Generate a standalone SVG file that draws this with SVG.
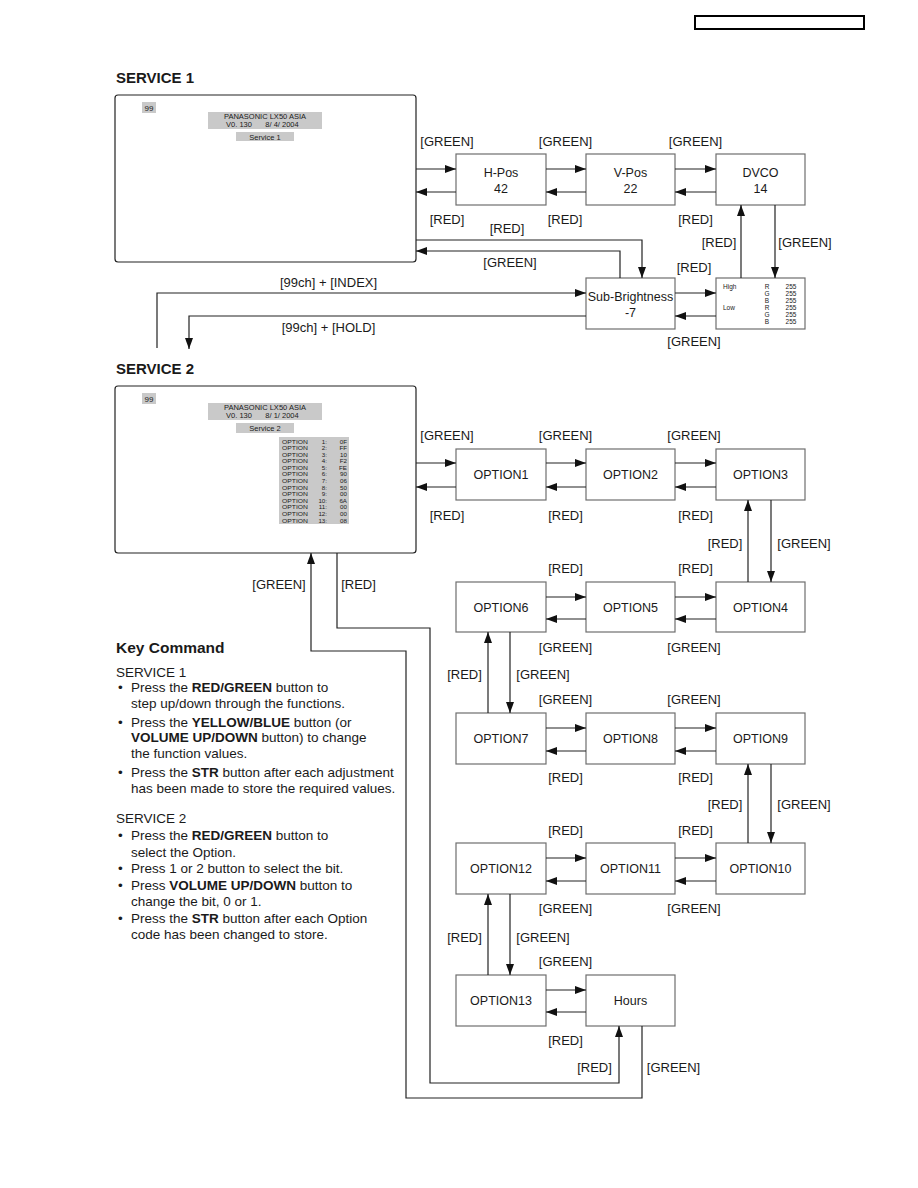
<svg xmlns="http://www.w3.org/2000/svg" width="918" height="1188" viewBox="0 0 918 1188">
<style>
text{font-family:"Liberation Sans",Arial,sans-serif;fill:#1a1a1a}
.lbl{font-size:13px;text-anchor:middle}
.nd{font-size:12.5px;text-anchor:middle}
.box{fill:#fff;stroke:#6e6e6e;stroke-width:1.2}
.scr{fill:#fff;stroke:#222;stroke-width:1.2}
.gray{fill:#c9c9c9}
.tiny{font-size:6.5px}
.sm{font-size:7.5px;text-anchor:middle}
.h{font-size:15px;font-weight:bold}
.kc{font-size:13.5px}
.ol{font-size:6.2px}
.c path{fill:none;stroke:#222;stroke-width:1.2;marker-end:url(#ah)}
</style>
<defs>
<marker id="ah" markerWidth="11" markerHeight="8" refX="11" refY="4" orient="auto" markerUnits="userSpaceOnUse">
<path d="M0,0 L11,4 L0,8 z" fill="#111"/>
</marker>
</defs>
<rect width="918" height="1188" fill="#fff"/>
<rect x="695" y="16" width="169" height="13" fill="none" stroke="#000" stroke-width="2"/>

<text class="h" x="116" y="82.5">SERVICE 1</text>
<text class="h" x="116" y="373.5">SERVICE 2</text>

<g id="screen1">
<rect class="scr" x="115" y="95" width="301" height="167" rx="3"/>
<rect class="gray" x="142" y="102" width="14" height="11"/>
<text x="149" y="110.5" font-size="8" text-anchor="middle">99</text>
<rect class="gray" x="208" y="112" width="114" height="17"/>
<text class="sm" x="265" y="118.5">PANASONIC LX50 ASIA</text>
<text class="sm" x="239" y="126.5">V0. 130</text>
<text class="sm" x="282" y="126.5">8/ 4/ 2004</text>
<rect class="gray" x="236" y="132" width="58" height="9"/>
<text class="sm" x="265" y="139.5">Service 1</text>
</g>

<g id="hpos"><rect class="box" x="456" y="154" width="90" height="51"/><text class="nd" x="501" y="176.5">H-Pos</text><text class="nd" x="501" y="192.5">42</text></g>
<g id="vpos"><rect class="box" x="586" y="154" width="89" height="51"/><text class="nd" x="630.5" y="176.5">V-Pos</text><text class="nd" x="630.5" y="192.5">22</text></g>
<g id="dvco"><rect class="box" x="716" y="154" width="89" height="51"/><text class="nd" x="760.5" y="176.5">DVCO</text><text class="nd" x="760.5" y="192.5">14</text></g>
<g id="subbright"><rect class="box" x="586" y="278" width="89" height="51"/><text class="nd" x="630.5" y="300.5" font-size="11.5">Sub-Brightness</text><text class="nd" x="630.5" y="316.5">-7</text></g>
<g id="rgb">
<rect class="box" x="716" y="278" width="89" height="51"/>
<text class="tiny" x="723" y="288.5">High</text>
<text class="tiny" x="723" y="309.5">Low</text>
<g class="tiny" text-anchor="middle">
<text x="767" y="288.5">R</text><text x="767" y="295.5">G</text><text x="767" y="302.5">B</text><text x="767" y="309.5">R</text><text x="767" y="316.5">G</text><text x="767" y="323.5">B</text>
<text x="791" y="288.5">255</text><text x="791" y="295.5">255</text><text x="791" y="302.5">255</text><text x="791" y="309.5">255</text><text x="791" y="316.5">255</text><text x="791" y="323.5">255</text>
</g>
</g>

<g id="screen2">
<rect class="scr" x="115" y="386" width="301" height="167" rx="3"/>
<rect class="gray" x="142" y="393" width="14" height="11"/>
<text x="149" y="401.5" font-size="8" text-anchor="middle">99</text>
<rect class="gray" x="208" y="403" width="114" height="17"/>
<text class="sm" x="265" y="409.5">PANASONIC LX50 ASIA</text>
<text class="sm" x="239" y="417.5">V0. 130</text>
<text class="sm" x="282" y="417.5">8/ 1/ 2004</text>
<rect class="gray" x="236" y="423" width="58" height="10"/>
<text class="sm" x="265" y="430.5">Service 2</text>
<rect class="gray" x="279" y="437" width="70" height="87"/>
<g class="ol">
<text x="282" y="443.5" textLength="26" lengthAdjust="spacingAndGlyphs">OPTION</text>
<text x="282" y="450.1" textLength="26" lengthAdjust="spacingAndGlyphs">OPTION</text>
<text x="282" y="456.7" textLength="26" lengthAdjust="spacingAndGlyphs">OPTION</text>
<text x="282" y="463.2" textLength="26" lengthAdjust="spacingAndGlyphs">OPTION</text>
<text x="282" y="469.8" textLength="26" lengthAdjust="spacingAndGlyphs">OPTION</text>
<text x="282" y="476.4" textLength="26" lengthAdjust="spacingAndGlyphs">OPTION</text>
<text x="282" y="483.0" textLength="26" lengthAdjust="spacingAndGlyphs">OPTION</text>
<text x="282" y="489.6" textLength="26" lengthAdjust="spacingAndGlyphs">OPTION</text>
<text x="282" y="496.1" textLength="26" lengthAdjust="spacingAndGlyphs">OPTION</text>
<text x="282" y="502.7" textLength="26" lengthAdjust="spacingAndGlyphs">OPTION</text>
<text x="282" y="509.3" textLength="26" lengthAdjust="spacingAndGlyphs">OPTION</text>
<text x="282" y="515.9" textLength="26" lengthAdjust="spacingAndGlyphs">OPTION</text>
<text x="282" y="522.5" textLength="26" lengthAdjust="spacingAndGlyphs">OPTION</text>
</g>
<g class="ol" text-anchor="end">
<text x="327" y="443.5">1:</text><text x="327" y="450.1">2:</text><text x="327" y="456.7">3:</text><text x="327" y="463.2">4:</text><text x="327" y="469.8">5:</text><text x="327" y="476.4">6:</text><text x="327" y="483.0">7:</text><text x="327" y="489.6">8:</text><text x="327" y="496.1">9:</text><text x="327" y="502.7">10:</text><text x="327" y="509.3">11:</text><text x="327" y="515.9">12:</text><text x="327" y="522.5">13:</text>
<text x="347" y="443.5">0F</text><text x="347" y="450.1">FF</text><text x="347" y="456.7">10</text><text x="347" y="463.2">F2</text><text x="347" y="469.8">FE</text><text x="347" y="476.4">90</text><text x="347" y="483.0">06</text><text x="347" y="489.6">50</text><text x="347" y="496.1">00</text><text x="347" y="502.7">6A</text><text x="347" y="509.3">00</text><text x="347" y="515.9">00</text><text x="347" y="522.5">08</text>
</g>
</g>

<g id="option1"><rect class="box" x="456" y="449" width="90" height="51"/><text class="nd" x="501" y="479">OPTION1</text></g>
<g id="option2"><rect class="box" x="586" y="449" width="89" height="51"/><text class="nd" x="630.5" y="479">OPTION2</text></g>
<g id="option3"><rect class="box" x="716" y="449" width="89" height="51"/><text class="nd" x="760.5" y="479">OPTION3</text></g>
<g id="option6"><rect class="box" x="456" y="582" width="90" height="50"/><text class="nd" x="501" y="611.5">OPTION6</text></g>
<g id="option5"><rect class="box" x="586" y="582" width="89" height="50"/><text class="nd" x="630.5" y="611.5">OPTION5</text></g>
<g id="option4"><rect class="box" x="716" y="582" width="89" height="50"/><text class="nd" x="760.5" y="611.5">OPTION4</text></g>
<g id="option7"><rect class="box" x="456" y="713" width="90" height="51"/><text class="nd" x="501" y="743">OPTION7</text></g>
<g id="option8"><rect class="box" x="586" y="713" width="89" height="51"/><text class="nd" x="630.5" y="743">OPTION8</text></g>
<g id="option9"><rect class="box" x="716" y="713" width="89" height="51"/><text class="nd" x="760.5" y="743">OPTION9</text></g>
<g id="option12"><rect class="box" x="456" y="843" width="90" height="51"/><text class="nd" x="501" y="873">OPTION12</text></g>
<g id="option11"><rect class="box" x="586" y="843" width="89" height="51"/><text class="nd" x="630.5" y="873">OPTION11</text></g>
<g id="option10"><rect class="box" x="716" y="843" width="89" height="51"/><text class="nd" x="760.5" y="873">OPTION10</text></g>
<g id="option13"><rect class="box" x="456" y="975" width="90" height="51"/><text class="nd" x="501" y="1005">OPTION13</text></g>
<g id="hours"><rect class="box" x="586" y="975" width="89" height="51"/><text class="nd" x="630.5" y="1005">Hours</text></g>

<g id="connectors" class="c">
<path d="M416,169 H456"/><path d="M456,192 H416"/>
<path d="M546,169 H586"/><path d="M586,192 H546"/>
<path d="M675,169 H716"/><path d="M716,192 H675"/>
<path d="M416,240 H642 V278"/>
<path d="M620,278 V251 H416"/>
<path d="M675,293 H716"/><path d="M716,316 H675"/>
<path d="M741,278 V205"/><path d="M775,205 V278"/>
<path d="M157,348 V293 H586"/>
<path d="M586,316 H189 V349"/>

<path d="M416,463 H456"/><path d="M456,487 H416"/>
<path d="M546,463 H586"/><path d="M586,487 H546"/>
<path d="M675,463 H716"/><path d="M716,487 H675"/>
<path d="M748,582 V500"/><path d="M771,500 V582"/>
<path d="M546,597 H586"/><path d="M586,619 H546"/>
<path d="M675,597 H716"/><path d="M716,619 H675"/>
<path d="M488,713 V632"/><path d="M510,632 V713"/>
<path d="M546,728 H586"/><path d="M586,751 H546"/>
<path d="M675,728 H716"/><path d="M716,751 H675"/>
<path d="M748,843 V764"/><path d="M771,764 V843"/>
<path d="M546,858 H586"/><path d="M586,881 H546"/>
<path d="M675,858 H716"/><path d="M716,881 H675"/>
<path d="M488,975 V894"/><path d="M510,894 V975"/>
<path d="M546,990 H586"/><path d="M586,1012 H546"/>
<path d="M337,553 V628 H430 V1083 H619 V1026"/>
<path d="M642,1026 V1098 H406 V651 H311 V553"/>
</g>

<g id="labels">
<text class="lbl" x="447" y="145.5">[GREEN]</text>
<text class="lbl" x="565.5" y="145.5">[GREEN]</text>
<text class="lbl" x="695.5" y="145.5">[GREEN]</text>
<text class="lbl" x="447" y="223.5">[RED]</text>
<text class="lbl" x="565" y="223.5">[RED]</text>
<text class="lbl" x="695.5" y="223.5">[RED]</text>
<text class="lbl" x="507" y="232.5">[RED]</text>
<text class="lbl" x="510" y="266.5">[GREEN]</text>
<text class="lbl" x="694" y="271.5">[RED]</text>
<text class="lbl" x="694" y="345.5">[GREEN]</text>
<text class="lbl" x="719" y="246.5">[RED]</text>
<text class="lbl" x="805" y="246.5">[GREEN]</text>
<text class="lbl" x="328.5" y="286.5">[99ch] + [INDEX]</text>
<text class="lbl" x="328.5" y="331.5">[99ch] + [HOLD]</text>

<text class="lbl" x="447" y="439.5">[GREEN]</text>
<text class="lbl" x="565.5" y="439.5">[GREEN]</text>
<text class="lbl" x="694" y="439.5">[GREEN]</text>
<text class="lbl" x="447" y="519.5">[RED]</text>
<text class="lbl" x="565.5" y="519.5">[RED]</text>
<text class="lbl" x="695.5" y="519.5">[RED]</text>
<text class="lbl" x="725" y="547.5">[RED]</text>
<text class="lbl" x="804" y="547.5">[GREEN]</text>
<text class="lbl" x="565.5" y="572.5">[RED]</text>
<text class="lbl" x="695.5" y="572.5">[RED]</text>
<text class="lbl" x="565.5" y="651.5">[GREEN]</text>
<text class="lbl" x="694" y="651.5">[GREEN]</text>
<text class="lbl" x="464.5" y="678.5">[RED]</text>
<text class="lbl" x="543" y="678.5">[GREEN]</text>
<text class="lbl" x="565.5" y="703.5">[GREEN]</text>
<text class="lbl" x="694" y="703.5">[GREEN]</text>
<text class="lbl" x="565.5" y="781.5">[RED]</text>
<text class="lbl" x="695.5" y="781.5">[RED]</text>
<text class="lbl" x="725" y="808.5">[RED]</text>
<text class="lbl" x="804" y="808.5">[GREEN]</text>
<text class="lbl" x="565.5" y="834.5">[RED]</text>
<text class="lbl" x="695.5" y="834.5">[RED]</text>
<text class="lbl" x="565.5" y="912.5">[GREEN]</text>
<text class="lbl" x="694" y="912.5">[GREEN]</text>
<text class="lbl" x="464.5" y="941.5">[RED]</text>
<text class="lbl" x="543" y="941.5">[GREEN]</text>
<text class="lbl" x="565.5" y="965.5">[GREEN]</text>
<text class="lbl" x="565.5" y="1044.5">[RED]</text>
<text class="lbl" x="279" y="588.5">[GREEN]</text>
<text class="lbl" x="358.5" y="588.5">[RED]</text>
<text class="lbl" x="594.5" y="1071.5">[RED]</text>
<text class="lbl" x="673.5" y="1071.5">[GREEN]</text>
</g>

<g id="keycommand" class="kc">
<text x="116" y="653" font-size="15.5" font-weight="bold">Key Command</text>
<text x="116" y="677">SERVICE 1</text>
<text x="118" y="692">•</text><text x="131" y="692">Press the <tspan font-weight="bold">RED/GREEN</tspan> button to</text>
<text x="131" y="708">step up/down through the functions.</text>
<text x="118" y="727">•</text><text x="131" y="727">Press the <tspan font-weight="bold">YELLOW/BLUE</tspan> button (or</text>
<text x="131" y="742"><tspan font-weight="bold">VOLUME UP/DOWN</tspan> button) to change</text>
<text x="131" y="758">the function values.</text>
<text x="118" y="777">•</text><text x="131" y="777">Press the <tspan font-weight="bold">STR</tspan> button after each adjustment</text>
<text x="131" y="793">has been made to store the required values.</text>
<text x="116" y="823">SERVICE 2</text>
<text x="118" y="840">•</text><text x="131" y="840">Press the <tspan font-weight="bold">RED/GREEN</tspan> button to</text>
<text x="131" y="857">select the Option.</text>
<text x="118" y="873">•</text><text x="131" y="873">Press 1 or 2 button to select the bit.</text>
<text x="118" y="890">•</text><text x="131" y="890">Press <tspan font-weight="bold">VOLUME UP/DOWN</tspan> button to</text>
<text x="131" y="906">change the bit, 0 or 1.</text>
<text x="118" y="923">•</text><text x="131" y="923">Press the <tspan font-weight="bold">STR</tspan> button after each Option</text>
<text x="131" y="939">code has been changed to store.</text>
</g>
</svg>
